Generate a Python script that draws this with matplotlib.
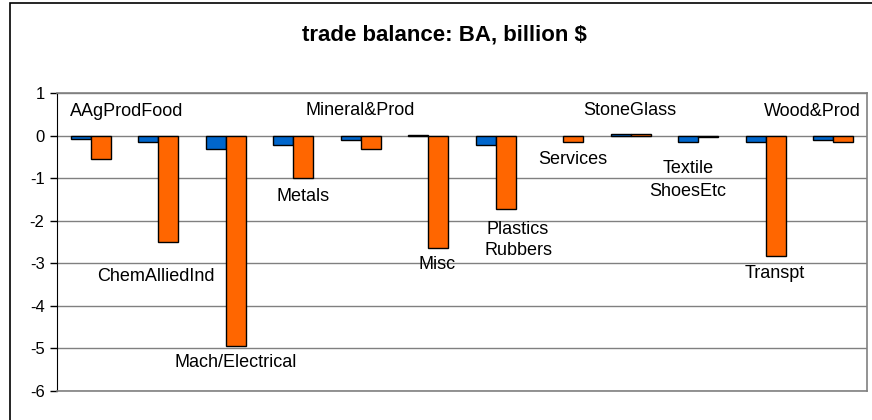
import numpy as np
import matplotlib.pyplot as plt
from matplotlib.patches import Rectangle

plt.rcParams['font.family'] = ['Liberation Sans', 'DejaVu Sans']

# trade balance by sector, billion $
sectors = ['AAgProdFood', 'ChemAlliedInd', 'Mach/Electrical', 'Metals',
           'Mineral&Prod', 'Misc', 'Plastics\nRubbers', 'Services',
           'StoneGlass', 'Textile\nShoesEtc', 'Transpt', 'Wood&Prod']
blue_vals = [-0.08, -0.14, -0.31, -0.21, -0.11, 0.02, -0.23, 0.0,
             0.03, -0.14, -0.14, -0.10]
orange_vals = [-0.55, -2.51, -4.95, -0.99, -0.31, -2.65, -1.73, -0.14,
               0.03, -0.04, -2.82, -0.14]
yticks = [1, 0, -1, -2, -3, -4, -5, -6]

# where each sector name sits (x in category units, y in data units)
label_x = [0.53, 0.96, 2.14, 3.14, 3.99, 5.13, 6.33, 7.14, 7.99, 8.85, 10.14, 10.69]
label_y = [0.56, -3.30, -5.34, -1.42, 0.58, -3.04, -2.46, -0.57, 0.58, -1.04, -3.23, 0.56]
label_ls = [1.2] * 12
label_ls[6] = 1.3
label_ls[9] = 1.45

fig = plt.figure(figsize=(8.72, 4.2), dpi=100)
ax = fig.add_axes([57 / 872, 1 - 391 / 420, 810 / 872, 298 / 420])

# outer chart frame
fig.patches.append(Rectangle((9.5 / 872, -0.1), 1.2, 1 - 3.5 / 420 + 0.1,
                             transform=fig.transFigure, fill=False,
                             edgecolor='black', linewidth=1.2))

x = np.arange(len(sectors))
w = 0.296
blue = np.array(blue_vals, dtype=float)
orange = np.array(orange_vals, dtype=float)
# zero entries get no bar at all
blue[blue == 0] = np.nan
orange[orange == 0] = np.nan
ax.bar(x - w / 2, blue, w, color='#0066CC', edgecolor='black', linewidth=1, zorder=3)
ax.bar(x + w / 2, orange, w, color='#FF6600', edgecolor='black', linewidth=1, zorder=3)

for i, name in enumerate(sectors):
    ax.text(label_x[i], label_y[i], name, ha='center', va='center',
            fontsize=13, linespacing=label_ls[i], color='black', zorder=4)

ax.set_xlim(-0.5, len(sectors) - 0.5)
ax.set_ylim(-6, 1)
ax.set_yticks(yticks)
ax.set_yticklabels([str(t) for t in yticks], fontsize=12)
ax.set_xticks([])
ax.grid(axis='y', color='#808080', linewidth=1, zorder=0)
ax.tick_params(axis='y', direction='out', length=5, width=1, pad=4)

ax.spines['left'].set_color('black')
for side in ['top', 'right', 'bottom']:
    ax.spines[side].set_color('#808080')
    ax.spines[side].set_linewidth(1.2)

fig.text(444 / 872, 1 - 35 / 420, 'trade balance: BA, billion $',
         ha='center', va='center', fontsize=16, fontweight='bold')

fig.savefig('out.png', dpi=100)
